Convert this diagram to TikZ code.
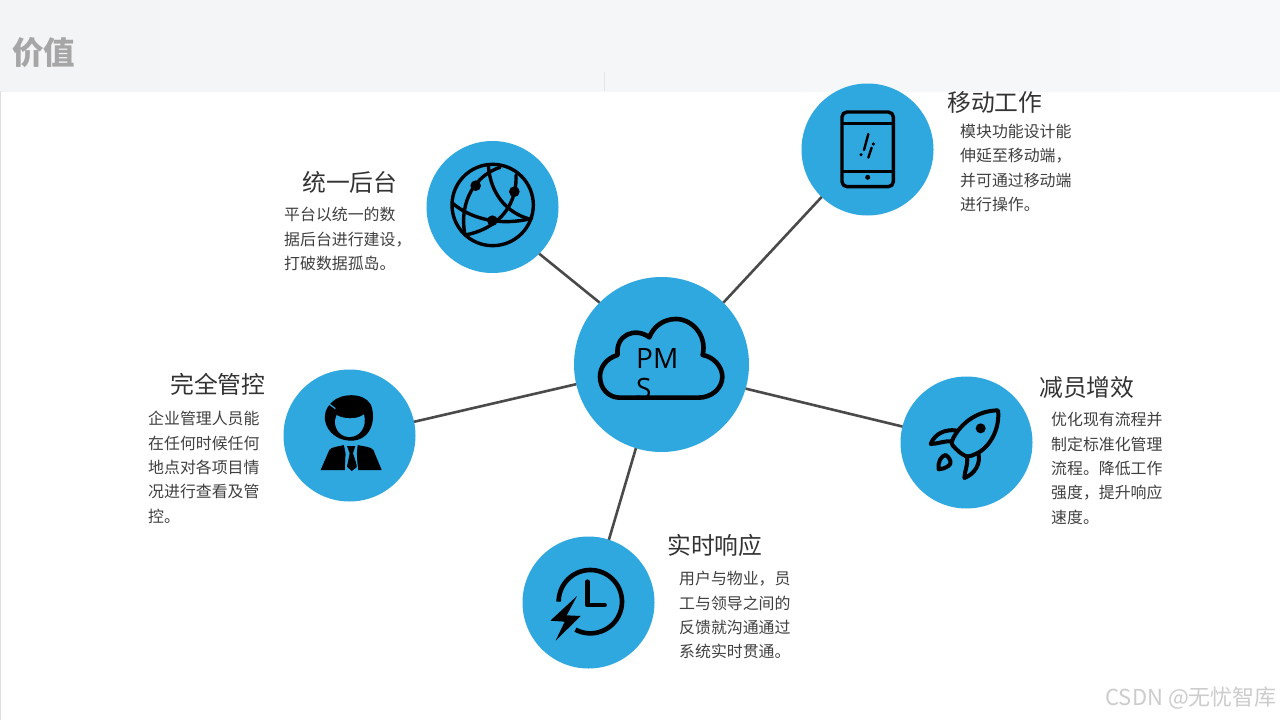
\documentclass[tikz,border=0pt]{standalone}
\usepackage{fontspec}
\setmainfont{Noto Sans CJK SC}
\newfontfamily\pmsfont{Open Sans}
\definecolor{hub}{HTML}{2FA8E0}
\definecolor{linkc}{HTML}{4A4A4A}
\definecolor{bodyc}{HTML}{404040}
\definecolor{headc}{HTML}{333333}
\definecolor{bandl}{HTML}{F3F4F5}
\definecolor{bandr}{HTML}{F7F8FA}
\tikzset{
  hubcircle/.style={circle,fill=hub,draw=none,inner sep=0pt,outer sep=0pt,minimum size=#1},
  link/.style={draw=linkc,line width=2.6pt},
  headtext/.style={anchor=west,inner sep=0pt,text=headc,font=\fontsize{23.8}{28}\selectfont},
  bodytext/.style={anchor=north west,inner sep=0pt,align=left,text=bodyc,font=\fontsize{15.9}{24.4}\selectfont},
  iconline/.style={draw=black,line width=#1,line join=round,line cap=round},
  iconscope/.style={x=0.33333pt,y=-0.33333pt}
}
\begin{document}
\begin{tikzpicture}[x=1pt,y=-1pt]
\useasboundingbox (0,0) rectangle (1280,720);
\fill[white] (0,0) rectangle (1280,720);
\shade[left color=bandl,right color=bandr] (0,0) rectangle (1280,91);
\fill[gray!25] (0,91) rectangle (1,720);
\fill[gray!20] (604,72) rectangle (605.2,91);
\node[anchor=west,inner sep=0pt,text=black!35,font=\fontsize{31.5}{36}\selectfont\bfseries] (title) at (12,53) {价值};

\node[hubcircle=175pt] (c) at (661.5,364.5) {};
\node[hubcircle=132pt] (g) at (492.5,207) {};
\node[hubcircle=132pt] (m) at (867.5,149.5) {};
\node[hubcircle=132pt] (p) at (349.5,435.5) {};
\node[hubcircle=132pt] (r) at (966.5,442.5) {};
\node[hubcircle=132pt] (k) at (588.5,602.5) {};

\draw[link] (c.135.5) -- (g.-45);
\draw[link] (c.45) -- (m.-134);
\draw[link] (c.193) -- (p.12.7);
\draw[link] (c.-16.4) -- (r.166.7);
\draw[link] (c.-107) -- (k.72.7);

% cloud
\begin{scope}[xshift=570pt,yshift=-275pt,iconscope]
\draw[iconline=4.6pt] (150,368) -- (385,368) .. controls (425,368) and (457,340) .. (457,305) .. controls (457,275) and (430,245) .. (398,240) .. controls (412,180) and (365,132) .. (318,132) .. controls (280,132) and (250,155) .. (238,187) .. controls (195,155) and (135,180) .. (143,240) .. controls (110,250) and (90,275) .. (90,305) .. controls (90,340) and (115,368) .. (150,368) -- cycle;
\end{scope}
\node[anchor=north west,inner sep=0pt,align=left,text=black,font=\fontsize{28}{30}\pmsfont] (pms) at (636,348) {PM\\S};

% globe
\begin{scope}[xshift=420pt,yshift=-130pt,iconscope]
\draw[iconline=3.4pt] (218,225) circle[radius=122];
\draw[iconline=3.4pt] (205,105) .. controls (210,190) and (260,250) .. (332,268);
\draw[iconline=3.4pt] (240,112) .. controls (170,135) and (115,210) .. (135,315);
\draw[iconline=3.4pt] (98,220) .. controls (150,265) and (240,290) .. (335,265);
\draw[iconline=3.4pt] (135,315) .. controls (220,300) and (292,240) .. (288,135);
\fill[black] (167,167) circle[radius=16] (283,185) circle[radius=16] (217,272) circle[radius=16];
\end{scope}

% tablet
\begin{scope}[xshift=790pt,yshift=-75pt,iconscope]
\draw[iconline=3.4pt,rounded corners=5pt] (156,111) rectangle (310,335);
\draw[iconline=3pt,line cap=butt] (156,145) -- (310,145) (156,290) -- (310,290);
\fill[black] (233,307) circle[radius=7.5];
\draw[iconline=2.4pt] (235,177) -- (222,225) (245,218) -- (235,248);
\fill[black] (213,239) circle[radius=5] (250,207) circle[radius=5];
\end{scope}

% person
\begin{scope}[xshift=280pt,yshift=-365pt,iconscope]
\fill[black] (155,112) .. controls (180,85) and (250,80) .. (272,118) .. controls (290,160) and (275,230) .. (208,227) .. controls (165,225) and (130,190) .. (135,150) .. controls (136,135) and (145,122) .. (155,112) -- cycle;
\fill[hub] (170,150) .. controls (190,162) and (230,165) .. (252,148) .. controls (262,185) and (240,216) .. (208,216) .. controls (175,216) and (155,180) .. (170,150) -- cycle;
\draw[hub,line width=1.2pt] (146,116) -- (166,131);
\fill[black] (122,315) -- (148,255) .. controls (155,245) and (175,245) .. (193,240) -- (197,262) -- (195,315) -- cycle;
\fill[black] (305,315) -- (280,255) .. controls (272,245) and (255,245) .. (232,240) -- (230,262) -- (232,315) -- cycle;
\fill[black] (201,243) -- (226,243) -- (219,265) -- (232,305) -- (215,318) -- (201,305) -- (209,265) -- cycle;
\draw[hub,line width=1pt] (193,238) -- (199,266) -- (197,316) (232,238) -- (228,266) -- (233,316);
\end{scope}

% rocket
\begin{scope}[xshift=895pt,yshift=-370pt,iconscope]
\draw[iconline=4pt] (309,121) .. controls (250,122) and (205,155) .. (180,195) .. controls (172,208) and (168,218) .. (172,225) .. controls (185,240) and (198,252) .. (212,258) .. controls (222,262) and (235,255) .. (250,248) .. controls (290,225) and (315,170) .. (309,121) -- cycle;
\draw[iconline=4pt] (182,181) .. controls (150,178) and (120,190) .. (107,222) .. controls (125,222) and (150,212) .. (170,214);
\draw[iconline=4pt] (250,250) .. controls (258,280) and (240,312) .. (208,324) .. controls (208,305) and (220,285) .. (216,262);
\draw[iconline=4pt] (131,298) .. controls (128,275) and (138,258) .. (152,255) .. controls (170,268) and (170,282) .. (160,288) .. controls (150,294) and (140,298) .. (131,298) -- cycle;
\fill[black] (257,175) circle[radius=15];
\end{scope}

% clock
\begin{scope}[xshift=518pt,yshift=-530pt,iconscope]
\draw[iconline=4.6pt,line cap=butt] plot[domain=180:-118,samples=80] ({217+95*cos(\x)},{215-95*sin(\x)});
\draw[iconline=4.6pt] (208,155) -- (208,225) -- (260,225);
\fill[black] (177,198) -- (97,272) -- (140,275) -- (113,332) -- (188,258) -- (146,256) -- cycle;
\end{scope}

\node[headtext] (h1) at (302,182) {统一后台};
\node[bodytext] (b1) at (284,207) {平台以统一的数\\据后台进行建设，\\打破数据孤岛。};
\node[headtext] (h2) at (947,103) {移动工作};
\node[bodytext] (b2) at (960,124) {模块功能设计能\\伸延至移动端，\\并可通过移动端\\进行操作。};
\node[headtext] (h3) at (170,384) {完全管控};
\node[bodytext] (b3) at (148,411) {企业管理人员能\\在任何时候任何\\地点对各项目情\\况进行查看及管\\控。};
\node[headtext] (h4) at (1039,387) {减员增效};
\node[bodytext] (b4) at (1051,412) {优化现有流程并\\制定标准化管理\\流程。降低工作\\强度，提升响应\\速度。};
\node[headtext] (h5) at (667,545) {实时响应};
\node[bodytext] (b5) at (679,571) {用户与物业，员\\工与领导之间的\\反馈就沟通通过\\系统实时贯通。};

\node[anchor=east,inner sep=0pt,text=black!20,font=\fontsize{22}{26}\selectfont] (wm) at (1277,698) {CSDN @无忧智库};
\end{tikzpicture}
\end{document}
